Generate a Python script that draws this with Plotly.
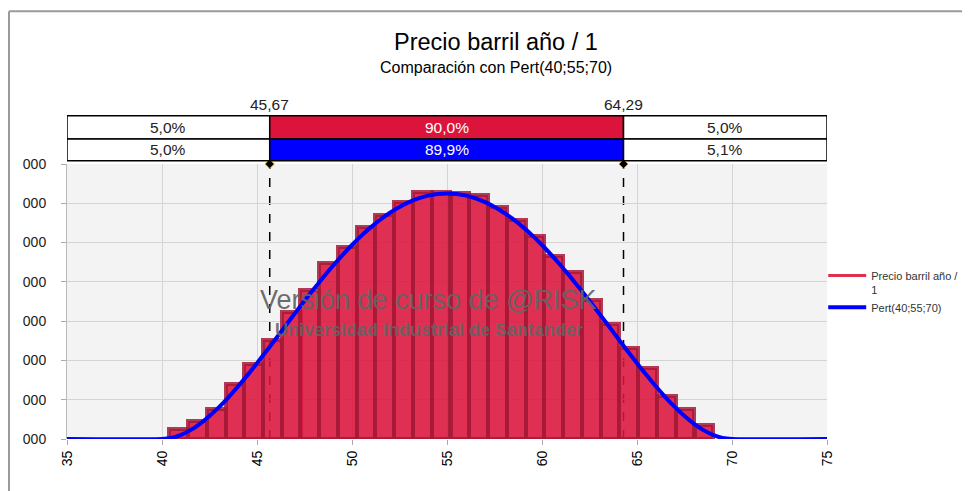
import plotly.graph_objects as go

# ---------------- data ----------------
bin_centers = [40.87, 41.86, 42.85, 43.84, 44.82, 45.81, 46.80, 47.78, 48.77, 49.76,
               50.74, 51.73, 52.72, 53.71, 54.69, 55.68, 56.67, 57.66, 58.64, 59.63,
               60.62, 61.60, 62.59, 63.58, 64.57, 65.55, 66.54, 67.53, 68.52]
bin_density = [0.00254, 0.00447, 0.00763, 0.01393, 0.01907, 0.02525, 0.03237, 0.03796,
               0.04475, 0.04882, 0.05390, 0.05703, 0.06026, 0.06295, 0.06275, 0.06250,
               0.06212, 0.05899, 0.05576, 0.05169, 0.04661, 0.04261, 0.03542, 0.02932,
               0.02314, 0.01805, 0.01083, 0.00770, 0.00364]

pert_x = [35, 40, 40.5, 41, 41.5, 42, 42.5, 43, 43.5, 44, 44.5, 45, 45.5, 46, 46.5, 47,
          47.5, 48, 48.5, 49, 49.5, 50, 50.5, 51, 51.5, 52, 52.5, 53, 53.5, 54, 54.5, 55,
          55.5, 56, 56.5, 57, 57.5, 58, 58.5, 59, 59.5, 60, 60.5, 61, 61.5, 62, 62.5, 63,
          63.5, 64, 64.5, 65, 65.5, 66, 66.5, 67, 67.5, 68, 68.5, 69, 69.5, 70, 75]
pert_y = [0, 0, 0.00027, 0.00104, 0.00226, 0.00387, 0.00584, 0.00810, 0.01062, 0.01335,
          0.01626, 0.01929, 0.02242, 0.02560, 0.02881, 0.03200, 0.03516, 0.03824, 0.04123,
          0.04410, 0.04682, 0.04938, 0.05176, 0.05393, 0.05588, 0.05760, 0.05908, 0.06030,
          0.06126, 0.06195, 0.06236, 0.06250, 0.06236, 0.06195, 0.06126, 0.06030, 0.05908,
          0.05760, 0.05588, 0.05393, 0.05176, 0.04938, 0.04682, 0.04410, 0.04123, 0.03824,
          0.03516, 0.03200, 0.02881, 0.02560, 0.02242, 0.01929, 0.01626, 0.01335, 0.01062,
          0.00810, 0.00584, 0.00387, 0.00226, 0.00104, 0.00027, 0, 0]

y_tickvals = [0, 0.01, 0.02, 0.03, 0.04, 0.05, 0.06, 0.07]
y_ticktext = ["000"] * 8
x_tickvals = [35, 40, 45, 50, 55, 60, 65, 70, 75]

left_cut = 45.67
right_cut = 64.29
left_cut_label = "45,67"
right_cut_label = "64,29"
row1_pcts = ["5,0%", "90,0%", "5,0%"]
row2_pcts = ["5,0%", "89,9%", "5,1%"]

title_text = "Precio barril año / 1"
subtitle_text = "Comparación con Pert(40;55;70)"
series1_name = "Precio barril año /<br>1"
series2_name = "Pert(40;55;70)"
wm1 = "Versión de curso de @RISK"
wm2 = "Universidad Industrial de Santander"

FONT = "Liberation Sans, Arial, sans-serif"
CRIMSON = "#dc143c"

# ---------------- figure ----------------
fig = go.Figure()

fig.add_trace(go.Bar(
    x=bin_centers, y=bin_density, width=0.987,
    marker=dict(color="rgba(220,20,60,0.88)",
                line=dict(color="rgba(165,25,55,0.85)", width=4)),
    showlegend=False, hoverinfo="skip",
))
# legend entry for histogram (line sample)
fig.add_trace(go.Scatter(
    x=[None], y=[None], mode="lines", name=series1_name,
    line=dict(color="#e0304f", width=3),
))
fig.add_trace(go.Scatter(
    x=pert_x, y=pert_y, mode="lines", name=series2_name,
    line=dict(color="#0000ff", width=4, shape="spline", smoothing=0.6),
    hoverinfo="skip",
))
# diamonds at top of cut lines
fig.add_trace(go.Scatter(
    x=[left_cut, right_cut], y=[0.07, 0.07], mode="markers",
    marker=dict(symbol="diamond", size=7, color="black",
                line=dict(color="#c8a000", width=1)),
    showlegend=False, cliponaxis=False, hoverinfo="skip",
))

shapes = []
# dashed cut lines (below traces)
for c in (left_cut, right_cut):
    shapes.append(dict(type="line", xref="x", yref="paper", x0=c, x1=c, y0=0, y1=1,
                       line=dict(color="black", width=1.5, dash="dash"), layer="below"))

# comparison table above the plot
row_bounds = [(1.0908, 1.1754), (1.0120, 1.0908)]
row_fills = [CRIMSON, "#0000ff"]
xs = [35, left_cut, right_cut, 75]
for (y0, y1), fillc in zip(row_bounds, row_fills):
    for i in range(3):
        shapes.append(dict(type="rect", xref="x", yref="paper",
                           x0=xs[i], x1=xs[i + 1], y0=y0, y1=y1,
                           fillcolor=fillc if i == 1 else "white",
                           line=dict(color="black", width=1.5), layer="above"))

# outer frame
shapes.append(dict(type="line", xref="paper", yref="paper", x0=-0.0763, x1=1.2,
                   y0=1.5557, y1=1.5557, line=dict(color="#9a9a9a", width=2)))
shapes.append(dict(type="line", xref="paper", yref="paper", x0=-0.0763, x1=-0.0763,
                   y0=1.5557, y1=-0.25, line=dict(color="#9a9a9a", width=2)))

annotations = []
for (y0, y1), pcts in zip(row_bounds, [row1_pcts, row2_pcts]):
    for i in range(3):
        annotations.append(dict(
            x=(xs[i] + xs[i + 1]) / 2, y=(y0 + y1) / 2, xref="x", yref="paper",
            text=pcts[i], showarrow=False,
            font=dict(family=FONT, size=15.5, color="white" if i == 1 else "#222"),
            xanchor="center", yanchor="middle"))
for c, lbl in ((left_cut, left_cut_label), (right_cut, right_cut_label)):
    annotations.append(dict(x=c, y=1.218, xref="x", yref="paper", text=lbl,
                            showarrow=False, font=dict(family=FONT, size=15.5, color="#222"),
                            xanchor="center", yanchor="middle"))

annotations.append(dict(x=0.5645, y=1.4432, xref="paper", yref="paper",
                        text=title_text, showarrow=False,
                        font=dict(family=FONT, size=23.5, color="black"),
                        xanchor="center", yanchor="middle"))
annotations.append(dict(x=0.5645, y=1.3524, xref="paper", yref="paper",
                        text=subtitle_text, showarrow=False,
                        font=dict(family=FONT, size=16, color="black"),
                        xanchor="center", yanchor="middle"))

annotations.append(dict(x=0.476, y=0.506, xref="paper", yref="paper", text=wm1,
                        showarrow=False,
                        font=dict(family=FONT, size=27, color="rgba(100,100,100,0.95)"),
                        xanchor="center", yanchor="middle"))
annotations.append(dict(x=0.476, y=0.397, xref="paper", yref="paper",
                        text="<b>" + wm2 + "</b>", showarrow=False,
                        font=dict(family=FONT, size=18, color="rgba(100,100,100,0.9)"),
                        xanchor="center", yanchor="middle"))

fig.update_layout(
    width=970, height=491,
    margin=dict(l=59, r=151, t=156, b=60, pad=0),
    paper_bgcolor="white", plot_bgcolor="#f3f3f3",
    bargap=0, barmode="overlay",
    shapes=shapes, annotations=annotations,
    showlegend=True,
    legend=dict(x=0.995, xanchor="left", y=0.644, yanchor="top", valign="top",
                font=dict(family=FONT, size=11, color="#333"),
                bgcolor="rgba(0,0,0,0)", itemwidth=38),
    font=dict(family=FONT),
)
fig.update_xaxes(range=[35, 75], tickvals=x_tickvals, tickangle=-90,
                 showgrid=True, gridcolor="#d4d4d4", gridwidth=1,
                 ticks="outside", ticklen=5, tickcolor="#aaaaaa",
                 tickfont=dict(family=FONT, size=14, color="black"),
                 showline=False, zeroline=False)
fig.update_yaxes(range=[0, 0.07], tickvals=y_tickvals, ticktext=y_ticktext,
                 showgrid=True, gridcolor="#d4d4d4", gridwidth=1,
                 ticks="outside", ticklen=5, tickcolor="#aaaaaa",
                 ticklabelstandoff=12,
                 tickfont=dict(family=FONT, size=14, color="#222"),
                 showline=True, linecolor="#bbbbbb", zeroline=False)

fig.write_html("out.html")
